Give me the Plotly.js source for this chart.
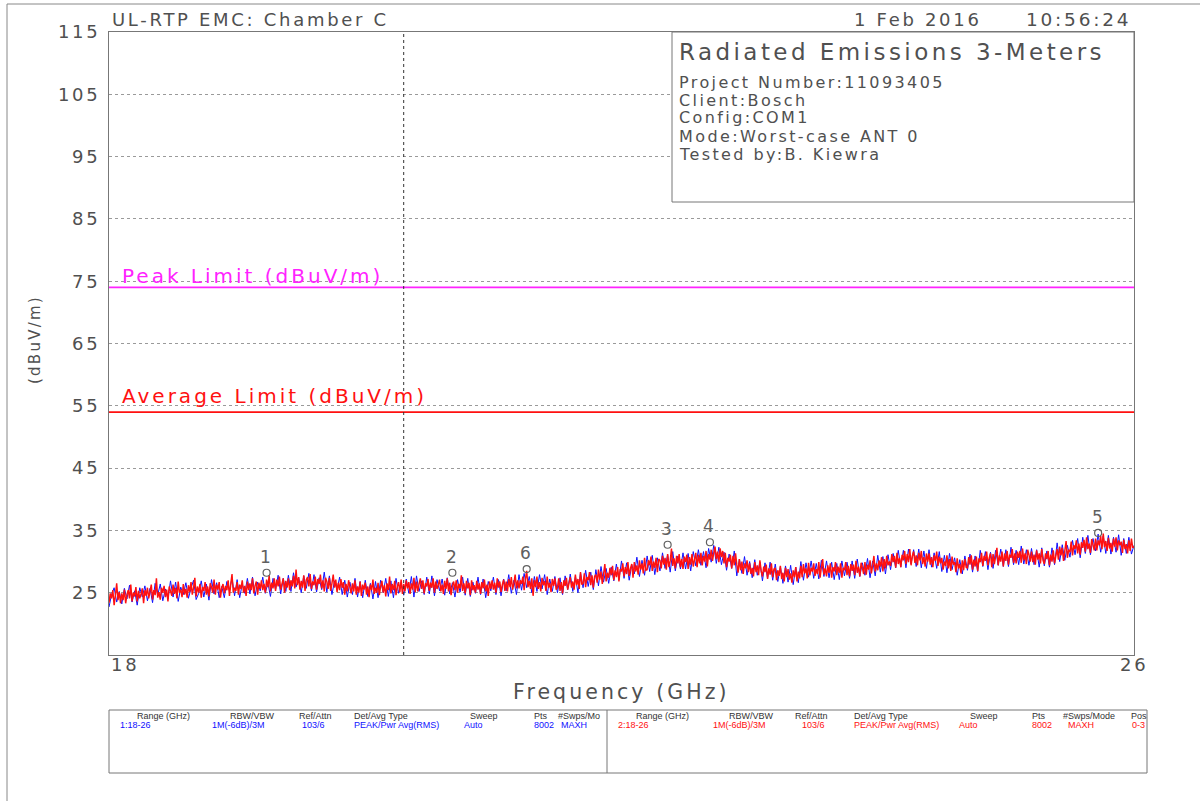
<!DOCTYPE html>
<html>
<head>
<meta charset="utf-8">
<script src="https://cdn.plot.ly/plotly-3.0.1.min.js"></script>
<style>
  html, body { margin: 0; padding: 0; background: #fff; }
  #chart { width: 1200px; height: 801px; }
  /* plotter-style wide lettering for the large labels */
  svg text { letter-spacing: 0.15em; }
  svg text[style*="font-size: 9px"] { letter-spacing: 0; }
</style>
</head>
<body>
<div id="chart"></div>
<script>
// ---- sweep settings ----
const startGHz = 18;
const stopGHz = 26;
const peakLimit = 74;     // dBuV/m
const avgLimit = 54;      // dBuV/m
const cursorGHz = 20.3;   // vertical reference cursor

// ---- trace 2 (red) level, dBuV/m, 0.01 GHz steps ----
const trace2Level = [
  23.4,24.9,24.1,25.4,23.0,24.6,26.5,23.8,25.1,23.3, 24.9,23.8,25.5,23.3,24.7,25.4,24.1,26.3,23.6,25.0,
  24.4,25.9,23.6,25.3,24.1,24.8,25.7,23.3,25.4,24.5, 25.8,24.1,25.2,26.3,23.9,25.4,24.6,27.3,24.2,25.1,
  23.9,25.8,25.0,26.1,24.3,25.5,23.6,26.0,25.3,24.5, 26.3,24.8,25.8,24.1,26.8,25.0,25.5,24.3,26.4,24.7,
  25.6,24.2,26.2,25.1,26.7,24.7,25.8,27.4,24.4,26.0, 25.0,26.4,24.2,25.9,25.3,26.7,24.7,26.0,24.4,26.5,
  25.9,25.0,27.1,24.7,26.3,25.5,26.7,24.2,25.8,26.4, 24.9,26.1,25.4,27.0,24.5,26.3,28.0,25.0,25.8,25.3,
  26.7,24.7,26.3,25.6,27.0,25.0,26.1,24.5,26.8,25.4, 26.5,25.4,27.3,24.9,26.1,26.8,24.7,26.6,25.6,27.0,
  25.4,26.4,25.0,27.1,25.9,27.8,25.2,26.6,25.7,27.3, 25.3,27.1,26.0,27.6,25.5,26.4,27.3,25.0,26.9,25.8,
  27.3,25.4,27.0,26.0,27.7,25.7,28.7,26.2,27.5,25.5, 26.9,25.8,27.8,25.3,27.1,27.5,26.0,28.0,25.6,26.8,
  26.2,27.6,25.5,27.2,26.4,27.9,25.7,27.0,25.2,27.4, 26.8,25.6,27.4,25.3,26.5,27.9,25.8,27.1,25.1,26.6,
  25.4,27.2,25.8,26.7,24.7,26.4,25.2,27.0,25.9,24.9, 26.5,25.2,27.0,24.7,26.0,25.0,26.8,24.5,26.3,25.5,
  26.6,24.7,26.0,24.3,26.3,25.4,27.1,24.8,25.8,25.0, 26.6,24.6,26.0,26.9,25.0,26.2,24.4,26.5,25.4,27.6,
  24.9,26.4,25.4,26.9,24.6,26.0,26.7,25.1,27.1,24.8, 26.4,25.2,27.0,25.7,26.7,24.8,26.5,25.5,27.4,25.1,
  26.8,25.2,26.4,27.3,25.6,27.0,24.9,26.5,26.0,27.2, 25.3,26.6,25.8,27.3,25.0,26.8,25.6,26.3,27.1,25.2,
  26.3,24.8,26.9,25.6,27.3,25.2,26.6,24.6,26.1,26.8, 25.4,27.0,25.0,26.4,25.7,27.8,25.3,26.5,24.9,26.9,
  25.7,26.6,24.6,27.0,25.4,26.2,25.0,26.9,25.5,26.5, 24.8,26.7,25.7,27.1,25.2,26.3,24.5,26.8,25.6,27.0,
  25.5,26.6,25.0,27.3,25.8,26.8,25.1,26.3,27.1,25.3, 26.8,25.2,27.2,25.9,27.5,25.5,26.5,27.9,25.7,27.0,
  25.7,27.0,26.4,27.6,25.4,27.2,28.5,25.9,26.9,25.6, 27.3,24.5,27.0,25.9,27.6,25.6,26.7,25.2,27.4,26.2,
  26.9,25.3,27.6,25.8,26.6,25.1,27.2,26.1,27.3,25.5, 25.8,27.3,25.3,26.7,24.9,27.0,26.1,27.4,25.5,26.5,
  27.5,25.8,26.8,25.5,27.9,26.2,27.2,25.6,28.3,26.3, 26.5,28.1,25.9,27.5,27.0,28.3,26.2,27.8,25.8,27.6,
  27.9,26.6,28.7,27.1,28.4,26.4,28.0,29.6,26.8,28.2, 27.4,29.0,27.8,29.3,27.0,28.6,27.5,29.1,26.8,28.8,
  28.4,29.7,27.6,29.1,28.0,29.9,27.7,28.9,29.6,27.4, 29.9,28.4,29.4,27.9,30.2,28.7,29.7,28.1,30.6,28.6,
  28.7,30.2,29.4,30.8,28.5,30.0,29.0,30.6,28.3,30.4, 30.2,28.9,30.9,29.5,30.6,28.7,31.2,29.1,30.1,32.1,
  29.3,30.5,28.9,30.9,29.7,31.2,29.1,30.4,28.8,30.8, 29.9,31.1,28.8,30.7,29.5,31.2,29.2,30.3,31.4,29.1,
  31.1,29.7,31.4,29.4,30.9,30.0,31.7,29.2,31.2,30.3, 31.9,30.1,31.4,32.4,30.4,31.6,29.9,32.1,30.7,31.7,
  29.7,31.4,29.1,30.6,30.0,31.1,28.9,30.9,29.4,31.3, 29.5,28.2,30.4,28.6,30.0,28.0,29.7,28.9,30.2,28.3,
  29.7,28.0,29.0,27.6,29.9,28.3,29.4,27.8,30.2,28.5, 27.6,29.2,28.3,29.5,27.2,28.9,27.9,29.7,27.5,28.8,
  28.9,27.0,28.6,27.7,29.3,27.2,28.2,26.8,29.0,27.5, 28.8,27.1,28.1,26.6,28.6,27.5,29.1,26.8,28.4,27.3,
  29.3,27.5,29.6,28.1,28.9,27.3,29.8,27.8,29.0,28.4, 29.7,27.7,28.8,28.0,29.9,27.4,29.1,30.4,27.9,28.9,
  27.6,29.4,28.2,29.7,27.4,29.1,28.4,29.9,27.8,29.2, 28.2,29.7,27.4,29.0,28.6,29.9,27.8,29.3,27.6,29.6,
  28.5,29.5,27.8,30.1,28.2,29.2,27.6,29.8,29.0,28.0, 29.9,27.9,29.5,28.7,30.2,28.1,29.3,30.9,28.4,29.7,
  28.6,30.2,29.2,30.7,28.4,30.4,28.9,30.9,29.4,30.0, 29.3,31.2,29.9,30.9,29.0,31.4,29.6,30.6,29.1,31.1,
  30.2,31.7,29.6,31.2,29.9,32.0,29.4,30.9,31.6,29.8, 31.0,29.4,31.4,30.2,31.7,29.6,30.7,29.2,31.3,30.0,
  31.3,29.5,30.7,29.1,31.0,30.1,31.6,29.3,30.8,29.7, 30.6,28.7,30.0,29.3,31.0,28.9,30.4,28.5,30.8,29.5,
  29.9,28.3,30.5,28.9,29.6,28.1,30.2,28.6,30.4,29.1, 29.0,30.7,29.5,31.0,28.7,30.3,29.2,30.8,28.5,30.5,
  29.9,31.4,29.3,30.9,30.1,31.6,29.4,30.6,31.3,29.1, 31.2,29.6,30.8,32.2,29.4,31.0,30.0,31.6,29.2,31.3,
  30.1,31.7,29.5,31.1,30.6,32.0,29.8,31.3,29.7,31.6, 30.6,31.7,29.8,32.1,30.2,31.3,29.6,31.9,31.1,30.0,
  31.6,29.9,31.1,29.5,31.8,30.3,31.3,29.7,32.0,30.2, 29.6,31.3,30.4,31.7,29.4,31.1,30.0,31.8,29.7,30.9,
  32.0,30.3,32.4,31.0,32.2,30.1,31.7,33.3,30.6,31.9, 31.5,33.2,31.0,32.6,32.0,33.4,31.3,32.9,31.1,33.1,
  32.2,33.5,31.6,33.9,32.0,32.9,31.4,33.6,32.7,31.8, 33.7,31.8,33.4,32.6,34.1,32.0,34.5,32.3,33.3,31.7,
  33.8,32.1,33.0,31.6,33.7,32.4,33.9,31.8,33.4,32.6, 33.2,31.4,33.5,32.0,32.8,31.3,33.4,31.7,33.7,32.2,
  32.4
];

// ---- trace 1 (blue) level, dBuV/m, 0.02 GHz steps ----
const trace1Level = [
  22.7,24.7,25.8,23.5,25.2, 23.2,25.7,24.0,26.2,23.5, 25.3,23.0,25.8,24.3,26.1, 23.7,25.7,23.4,26.5,24.6,
  26.4,23.7,25.6,24.0,26.9, 24.3,26.7,23.6,25.9,24.7, 26.6,24.1,25.7,27.0,23.9, 24.9,26.9,24.3,26.4,23.8,
  27.1,24.8,26.6,24.2,26.0, 24.2,26.8,25.3,27.4,24.5, 27.1,24.2,26.4,24.9,27.3, 24.8,27.5,24.5,26.7,25.3,
  27.5,24.9,26.6,24.4,27.3, 25.5,27.8,24.8,27.3,25.2, 27.8,25.2,28.2,25.9,27.5, 25.0,27.7,25.7,28.1,25.3,
  27.9,25.1,27.4,25.5,28.3, 25.1,27.7,24.7,26.9,25.5, 27.5,24.7,27.0,24.3,26.7, 24.7,27.3,24.3,26.8,24.2,
  27.0,24.4,26.5,24.0,26.8, 24.2,27.0,25.0,27.3,24.4, 26.9,24.2,27.3,24.9,26.6, 24.6,27.2,24.9,27.6,24.3,
  27.7,25.2,26.9,24.7,27.5, 24.8,27.7,24.5,27.1,25.3, 27.2,24.6,27.4,24.8,26.6, 24.3,27.1,25.1,27.5,24.6,
  27.3,24.4,26.7,24.9,27.5, 24.7,27.2,24.2,26.8,25.3, 27.5,24.7,27.1,24.5,27.2, 25.3,27.9,24.9,27.0,24.7,
  27.9,25.4,28.1,25.8,27.6, 25.0,27.6,25.2,27.9,25.6, 27.9,24.7,27.2,25.2,27.6, 25.0,27.4,24.7,27.7,25.5,
  28.0,25.2,27.6,25.0,28.2, 25.8,28.6,26.0,28.3,25.5, 28.7,26.1,29.2,26.7,28.9, 26.5,29.1,26.9,29.6,27.1,
  30.1,27.3,29.8,27.0,29.5, 28.0,30.7,27.6,30.2,27.8, 30.9,28.4,31.0,27.9,30.6, 28.5,31.4,28.9,31.1,28.3,
  31.6,28.5,30.9,28.8,31.4, 28.8,31.3,28.5,31.6,29.3, 31.9,29.4,31.6,29.0,32.1, 29.9,32.6,29.7,32.3,29.5,
  31.5,28.6,31.2,28.9,31.7, 27.7,30.4,28.1,30.8,27.8, 30.0,27.4,30.3,27.8,29.9, 26.9,29.8,27.3,29.9,27.0,
  29.6,26.8,29.2,26.5,29.3, 26.7,29.4,26.3,29.1,26.6, 30.0,27.0,29.8,27.5,30.1, 27.3,29.7,27.2,30.2,27.6,
  30.1,27.4,29.9,27.1,29.7, 27.1,30.1,27.7,29.9,27.3, 30.1,27.3,30.4,27.6,29.8, 27.8,30.5,27.4,30.1,27.7,
  31.0,28.3,30.8,28.0,31.1, 28.7,31.3,29.0,31.8,29.1, 31.8,29.0,32.0,29.6,31.9, 29.2,32.0,29.0,31.7,28.9,
  31.9,29.1,31.4,28.9,31.6, 28.4,31.0,28.2,31.3,28.7, 30.6,27.8,30.3,28.0,30.9, 28.6,31.2,28.3,30.9,28.4,
  31.8,29.2,31.6,28.7,31.5, 28.9,31.8,29.4,32.0,29.2, 31.9,29.2,32.3,29.5,31.8, 29.5,32.5,29.6,31.9,29.4,
  32.1,29.5,31.9,29.1,32.2, 29.3,31.7,29.1,32.2,29.5, 33.0,30.0,32.7,30.2,32.6, 30.7,33.4,31.1,33.7,30.6,
  33.9,31.3,34.2,31.1,33.7, 31.7,34.4,31.5,34.1,31.3, 34.2,31.2,33.9,31.5,34.3, 31.0,33.7,31.3,33.9,31.2,
  32.6
];

// ---- marker table ----
const markerIds = ['1', '2', '3', '4', '5', '6'];
const markerGHz = [19.23, 20.68, 22.36, 22.69, 25.72, 21.26];
const markerLevel = [28.2, 28.2, 32.7, 33.1, 34.6, 28.8];

// ---- axis labels ----
const yTickVals = [25, 35, 45, 55, 65, 75, 85, 95, 105, 115];
const yTickText = ['25', '35', '45', '55', '65', '75', '85', '95', '105', '115'];
const xEndLabels = ['18', '26'];

// ---- header / info text ----
const siteTitle = 'UL-RTP EMC: Chamber C';
const testDate = '1 Feb 2016';
const testTime = '10:56:24';
const reportTitle = 'Radiated Emissions 3-Meters';
const infoLines = ['Project Number:11093405', 'Client:Bosch', 'Config:COM1',
                   'Mode:Worst-case ANT 0', 'Tested by:B. Kiewra'];

// ---- sweep settings table ----
const tableHeads1 = ['Range (GHz)', 'RBW/VBW', 'Ref/Attn', 'Det/Avg Type', 'Sweep', 'Pts', '#Swps/Mo'];
const tableVals1 = ['1:18-26', '1M(-6dB)/3M', '103/6', 'PEAK/Pwr Avg(RMS)', 'Auto', '8002', 'MAXH'];
const tableHeads2 = ['Range (GHz)', 'RBW/VBW', 'Ref/Attn', 'Det/Avg Type', 'Sweep', 'Pts', '#Swps/Mode', 'Pos'];
const tableVals2 = ['2:18-26', '1M(-6dB)/3M', '103/6', 'PEAK/Pwr Avg(RMS)', 'Auto', '8002', 'MAXH', '0-3'];

// ---- page geometry (pixels) ----
const W = 1200, H = 801;
const M = { l: 109, r: 66, t: 32, b: 146 };
const plotW = W - M.l - M.r, plotH = H - M.t - M.b;
const px = x => (x - M.l) / plotW;           // page x -> paper x
const py = y => (H - M.b - y) / plotH;       // page y -> paper y

const FONT = 'DejaVu Sans, Verdana, sans-serif';
const SMALL = 'Liberation Sans Narrow, Liberation Sans, Arial, sans-serif';
const GREY = '#505050';
const BLUE = '#1010ff';
const RED = '#ff1010';
const MAGENTA = '#ff22ff';

// sweep frequency grid
function sweepGrid(n) {
  const f = [];
  for (let i = 0; i < n; i++) f.push(startGHz + (stopGHz - startGHz) * i / (n - 1));
  return f;
}
const freq1 = sweepGrid(trace1Level.length);
const freq2 = sweepGrid(trace2Level.length);

const traces = [
  { x: freq1, y: trace1Level, type: 'scatter', mode: 'lines',
    line: { color: BLUE, width: 1.0, simplify: false }, hoverinfo: 'skip' },
  { x: freq2, y: trace2Level, type: 'scatter', mode: 'lines',
    line: { color: RED, width: 1.45, simplify: false }, hoverinfo: 'skip' },
  { x: [startGHz, stopGHz], y: [peakLimit, peakLimit], type: 'scatter', mode: 'lines',
    line: { color: MAGENTA, width: 1.8 }, hoverinfo: 'skip' },
  { x: [startGHz, stopGHz], y: [avgLimit, avgLimit], type: 'scatter', mode: 'lines',
    line: { color: RED, width: 1.8 }, hoverinfo: 'skip' },
  { x: markerGHz, y: markerLevel, type: 'scatter', mode: 'markers',
    marker: { symbol: 'circle-open', size: 7, color: '#606060', line: { width: 1.2, color: '#606060' } },
    hoverinfo: 'skip' }
];

const ann = [];
function txt(text, x, y, opts) {
  ann.push(Object.assign({
    text: text, x: x, y: y, xref: 'paper', yref: 'paper',
    xanchor: 'left', yanchor: 'middle', align: 'left', showarrow: false,
    font: { family: FONT, size: 15, color: GREY }
  }, opts || {}));
}

// header
txt(siteTitle, px(110), py(20), { font: { family: FONT, size: 18, color: GREY } });
txt(testDate, px(852), py(20), { font: { family: FONT, size: 18, color: GREY } });
txt(testTime, px(1024), py(20), { font: { family: FONT, size: 18.5, color: GREY } });

// info box
txt(reportTitle, px(677), py(52), { font: { family: FONT, size: 23, color: GREY } });
const infoRows = [83, 101, 118, 136, 154];
infoLines.forEach((s, i) => txt(s, px(677), py(infoRows[i]), { font: { family: FONT, size: 16, color: GREY } }));

// limit labels
ann.push({ text: 'Peak Limit (dBuV/m)', x: startGHz, y: peakLimit, xref: 'x', yref: 'y',
  xanchor: 'left', yanchor: 'middle', align: 'left', xshift: 11, yshift: 11, showarrow: false,
  font: { family: FONT, size: 20, color: MAGENTA } });
ann.push({ text: 'Average Limit (dBuV/m)', x: startGHz, y: avgLimit, xref: 'x', yref: 'y',
  xanchor: 'left', yanchor: 'middle', align: 'left', xshift: 11, yshift: 16, showarrow: false,
  font: { family: FONT, size: 20, color: RED } });

// marker numbers
markerIds.forEach((id, i) => ann.push({
  text: id, x: markerGHz[i], y: markerLevel[i], xref: 'x', yref: 'y',
  yshift: 16, showarrow: false, xanchor: 'center', yanchor: 'middle',
  font: { family: FONT, size: 17, color: '#606060' }
}));

// x end labels
ann.push({ text: xEndLabels[0], x: startGHz, y: py(664), xref: 'x', yref: 'paper',
  xanchor: 'left', yanchor: 'middle', align: 'left', showarrow: false,
  font: { family: FONT, size: 18, color: GREY } });
ann.push({ text: xEndLabels[1], x: stopGHz, y: py(664), xref: 'x', yref: 'paper',
  xanchor: 'center', yanchor: 'middle', showarrow: false,
  font: { family: FONT, size: 18, color: GREY } });

// axis titles
ann.push({ text: 'Frequency (GHz)', x: 0.5, y: py(692), xref: 'paper', yref: 'paper',
  xanchor: 'center', yanchor: 'middle', showarrow: false,
  font: { family: FONT, size: 20.5, color: GREY } });
ann.push({ text: '(dBuV/m)', x: px(35), y: py(340), xref: 'paper', yref: 'paper',
  xanchor: 'center', yanchor: 'middle', textangle: -90, showarrow: false,
  font: { family: FONT, size: 15, color: GREY } });

// settings table
const colHead1 = [135, 228, 297, 352, 468, 532, 556];
const colVal1 = [118, 210, 300, 352, 462, 532, 559];
const colHead2 = [634, 727, 793, 852, 968, 1030, 1061, 1129];
const colVal2 = [616, 711, 800, 852, 957, 1030, 1066, 1130];
const smallHead = { family: SMALL, size: 9, color: '#333' };
tableHeads1.forEach((s, i) => txt(s, px(colHead1[i]), py(716), { font: smallHead }));
tableVals1.forEach((s, i) => txt(s, px(colVal1[i]), py(725), { font: { family: SMALL, size: 9, color: BLUE } }));
tableHeads2.forEach((s, i) => txt(s, px(colHead2[i]), py(716), { font: smallHead }));
tableVals2.forEach((s, i) => txt(s, px(colVal2[i]), py(725), { font: { family: SMALL, size: 9, color: RED } }));

const shapes = [
  // page border
  { type: 'rect', xref: 'paper', yref: 'paper', x0: px(7), x1: px(1205), y0: py(806), y1: py(4),
    line: { color: '#888', width: 1 }, layer: 'below' },
  // cursor line
  { type: 'line', xref: 'x', yref: 'paper', x0: cursorGHz, x1: cursorGHz, y0: 0, y1: 1,
    line: { color: '#333', width: 1, dash: 'dot' }, layer: 'above' },
  // info box
  { type: 'rect', xref: 'paper', yref: 'paper', x0: px(672), x1: 1, y0: py(202), y1: 1,
    fillcolor: '#fff', line: { color: '#777', width: 1 }, layer: 'above' },
  // settings table box and divider
  { type: 'rect', xref: 'paper', yref: 'paper', x0: 0, x1: px(1147), y0: py(773), y1: py(710),
    line: { color: '#777', width: 1 } },
  { type: 'line', xref: 'paper', yref: 'paper', x0: px(607), x1: px(607), y0: py(773), y1: py(710),
    line: { color: '#777', width: 1 } }
];

const layout = {
  width: W, height: H,
  margin: M,
  paper_bgcolor: '#fff', plot_bgcolor: '#fff',
  showlegend: false, hovermode: false,
  xaxis: {
    range: [startGHz, stopGHz], showgrid: false, zeroline: false,
    showticklabels: false, ticks: '',
    showline: true, mirror: true, linecolor: '#777', linewidth: 1
  },
  yaxis: {
    range: [15, 115], tickmode: 'array', tickvals: yTickVals, ticktext: yTickText,
    showgrid: true, gridcolor: '#9a9a9a', griddash: 'dot', gridwidth: 1,
    zeroline: false, ticks: '', ticklabelstandoff: 4,
    tickfont: { family: FONT, size: 18, color: GREY },
    showline: true, mirror: true, linecolor: '#777', linewidth: 1
  },
  shapes: shapes,
  annotations: ann
};

Plotly.newPlot('chart', traces, layout, { staticPlot: true, displayModeBar: false });
</script>
</body>
</html>
